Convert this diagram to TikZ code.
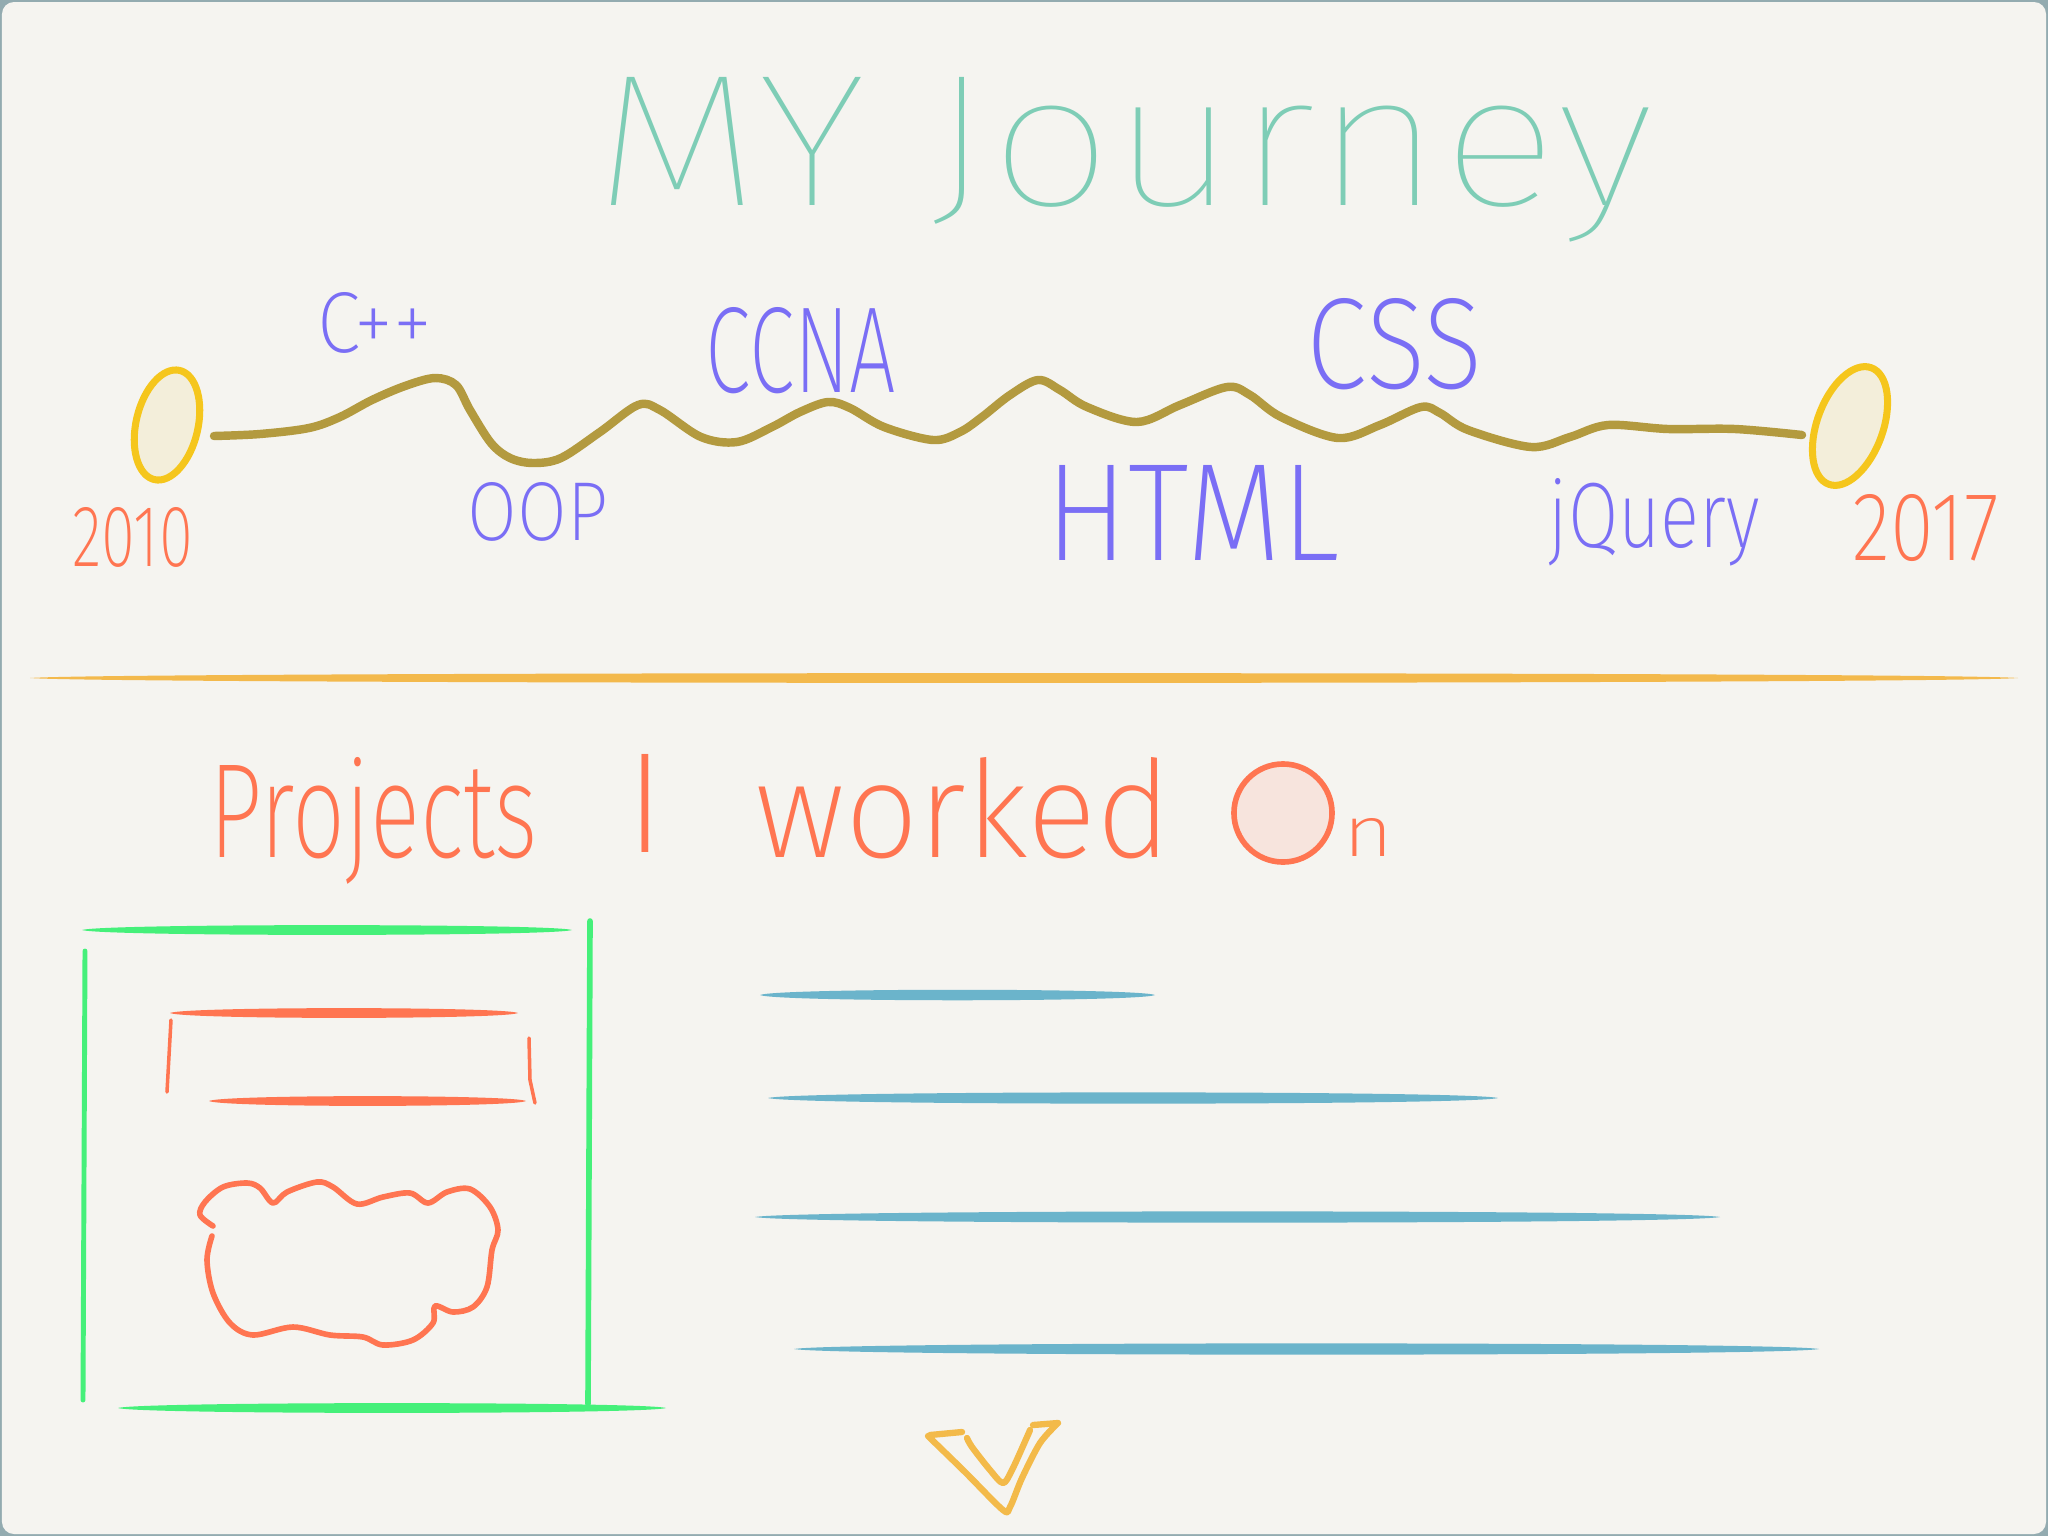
\documentclass[tikz,border=0pt]{standalone}
\usepackage{fontspec}
\usepackage{graphicx}
\IfFontExistsTF{Fira Sans ExtraLight}{\newfontfamily\hand{Fira Sans ExtraLight}}{%
  \IfFontExistsTF{Fira Sans Light}{\newfontfamily\hand{Fira Sans Light}}{\newfontfamily\hand{Fira Sans}}}
\IfFontExistsTF{Fira Sans Thin}{\newfontfamily\handthin{Fira Sans Thin}}{\let\handthin\hand}

\definecolor{paper}{HTML}{F5F4F0}
\definecolor{frame}{HTML}{93ABB0}
\definecolor{titleteal}{HTML}{7ECDB6}
\definecolor{skillpurple}{HTML}{7A6EF5}
\definecolor{coral}{HTML}{FF7551}
\definecolor{wavegold}{HTML}{B39A3F}
\definecolor{dotyellow}{HTML}{F5C61C}
\definecolor{dotfill}{HTML}{F3EEDA}
\definecolor{dividerorange}{HTML}{F3B94C}
\definecolor{boxgreen}{HTML}{45F07A}
\definecolor{lineblue}{HTML}{6BB4CB}
\definecolor{blushpink}{HTML}{F7E4DD}
\definecolor{checkyellow}{HTML}{F3BA4A}

% tapered horizontal brush stroke: colour, x1, x2, y, half width
\newcommand\brushline[5]{%
  \fill[#1] (#2,#4)
    .. controls ({#2+0.04*(#3-#2)},{#4-#5}) and ({#3-0.04*(#3-#2)},{#4-#5}) .. (#3,#4)
    .. controls ({#3-0.04*(#3-#2)},{#4+#5}) and ({#2+0.04*(#3-#2)},{#4+#5}) .. cycle;}

\begin{document}
\begin{tikzpicture}[
    x=0.01cm, y=-0.01cm,
    label/.style={inner sep=0pt, anchor=base west},
    skill/.style={label, text=skillpurple},
    year/.style={label, text=coral},
    stroke/.style={line cap=round, line join=round},
    yeardot/.style={stroke, draw=dotyellow, fill=dotfill, line width=2pt}
]

% ============================================================
% Blatt
% ============================================================
\useasboundingbox (0,0) rectangle (2048,1536);
\fill[frame] (0,0) rectangle (2048,1536);
\fill[paper, rounded corners=0.12cm] (2,2) rectangle (2046,1534);

% ============================================================
% Titel
% ============================================================
\node[label, text=titleteal] (title) at (594,205)
    {\resizebox{10.58cm}{1.28cm}{\handthin MY Journey}};

% ============================================================
% Zeitleiste
% ============================================================
\draw[stroke, wavegold, line width=2.4pt] plot[smooth, tension=0.55] coordinates {
    (214,436) (260,434) (309,428) (340,417) (372,400) (405,386) (435,378)
    (456,385) (470,410) (491,443) (510,458) (533,463) (561,458) (600,432)
    (638,405) (660,410) (701,437) (737,442) (772,427) (800,412) (828,402)
    (850,408) (884,427) (933,440) (960,432) (982,417) (1010,395) (1038,380)
    (1060,390) (1087,407) (1137,422) (1180,405) (1227,387) (1250,395)
    (1281,417) (1338,438) (1380,425) (1421,407) (1440,413) (1468,430)
    (1531,447) (1570,437) (1608,425) (1668,429) (1735,429) (1802,435)};

% Start und Ende
\draw[yeardot, rotate around={-13:(167,425)}]
    (167,425) ellipse [x radius=0.31cm, y radius=0.56cm];
\draw[yeardot, rotate around={-20:(1850,426)}]
    (1850,426) ellipse [x radius=0.33cm, y radius=0.62cm];

\node[year] (y2010) at (72,566) {\resizebox{1.20cm}{0.59cm}{\hand 2010}};
\node[year] (y2017) at (1852,560) {\resizebox{1.46cm}{0.66cm}{\hand 2017}};

% Stationen
\node[skill] (cpp)    at (317,352)  {\resizebox{1.14cm}{0.60cm}{\hand C++}};
\node[skill] (oop)    at (467,540)  {\resizebox{1.40cm}{0.58cm}{\hand OOP}};
\node[skill] (ccna)   at (705,392)  {\resizebox{1.90cm}{0.85cm}{\hand CCNA}};
\node[skill] (html)   at (1045,560) {\resizebox{2.94cm}{0.95cm}{\hand HTML}};
\node[skill] (css)    at (1306,388) {\resizebox{1.76cm}{0.90cm}{\hand CSS}};
\node[skill] (jquery) at (1548,547) {\resizebox{2.11cm}{0.69cm}{\hand jQuery}};

% Trennlinie
\brushline{dividerorange}{30}{2018}{678}{6.5}

% ============================================================
% Projekte
% ============================================================
\node[label, text=coral] (projects) at (209,857)
    {\resizebox{3.28cm}{1.00cm}{\hand Projects}};
\node[label, text=coral, anchor=base] (pronoun) at (645,852)
    {\resizebox{!}{0.98cm}{\hand I}};
\node[label, text=coral] (worked) at (755,857)
    {\resizebox{4.16cm}{1.00cm}{\hand worked}};
\draw[stroke, draw=coral, fill=blushpink, line width=1.6pt]
    (1283,813) circle [radius=0.49cm];
\node[label, text=coral] (on) at (1343,856)
    {\resizebox{0.50cm}{0.38cm}{\hand n}};

% Rahmen (gruen)
\brushline{boxgreen}{82}{572}{930}{6.5}
\brushline{boxgreen}{118}{666}{1408}{6.5}
\draw[stroke, boxgreen, line width=1.4pt] (85,951) -- (83,1400);
\draw[stroke, boxgreen, line width=1.6pt] (590,921) -- (588,1404);

% Klammer
\brushline{coral}{170}{518}{1013}{6.5}
\brushline{coral}{209}{526}{1101}{6.5}
\draw[stroke, coral, line width=1pt] (171,1020) -- (167,1092);
\draw[stroke, coral, line width=1pt] (529,1038) -- (530,1080) -- (535,1103);

% Wolke
\draw[stroke, coral, line width=1.6pt] plot[smooth, tension=0.55] coordinates {
    (213,1226) (200,1215) (205,1202) (223,1187) (247,1183) (260,1188)
    (273,1203) (287,1192) (317,1182) (333,1187) (357,1204) (383,1197)
    (410,1193) (428,1203) (447,1192) (470,1189) (490,1207) (498,1230)
    (492,1250) (487,1287) (473,1307) (453,1312) (435,1306) (433,1323)
    (413,1340) (383,1345) (363,1337) (330,1335) (293,1327) (253,1335)
    (230,1323) (213,1293) (207,1260) (212,1236)};

% Textzeilen
\brushline{lineblue}{760}{1155}{995}{7}
\brushline{lineblue}{768}{1498}{1098}{7.5}
\brushline{lineblue}{755}{1720}{1217}{7.5}
\brushline{lineblue}{794}{1819}{1349}{7.5}

% Haken
\draw[stroke, checkyellow, line width=1.8pt] (930,1435) -- (962,1432);
\draw[stroke, checkyellow, line width=1.8pt] plot[smooth, tension=0.5] coordinates {
    (928,1436) (965,1472) (1003,1510) (1010,1507) (1022,1478) (1040,1443)
    (1058,1423)} -- (1033,1425);
\draw[stroke, checkyellow, line width=1.8pt] plot[smooth, tension=0.5] coordinates {
    (967,1438) (972,1447) (990,1470) (1003,1483) (1012,1470) (1027,1437)
    (1030,1430)};

\end{tikzpicture}
\end{document}
